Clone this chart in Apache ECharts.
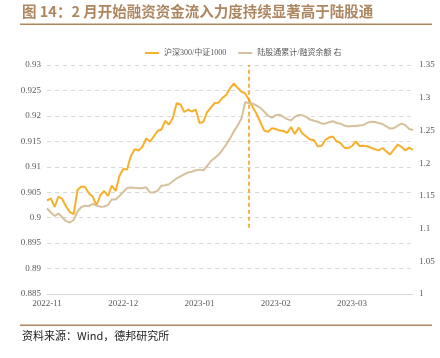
<!DOCTYPE html>
<html><head><meta charset="utf-8">
<script src="https://cdn.jsdelivr.net/npm/echarts@6/dist/echarts.min.js"></script>
<style>html,body{margin:0;padding:0;background:#fff}#c{width:440px;height:358px}</style>
</head><body><div id="c"></div>
<script>
const tickLabels = ["2022-11","2022-12","2023-01","2023-02","2023-03"];
const labelEvery = 20;
const hs300vsZz1000 = [0.90333,0.90379,0.90210,0.90416,0.90367,0.90219,0.90111,0.90072,0.90544,0.90612,
0.90603,0.90475,0.90414,0.90239,0.90445,0.90524,0.90426,0.90632,0.90524,0.90819,
0.90956,0.90946,0.91212,0.91343,0.91320,0.91389,0.91556,0.91497,0.91595,0.91703,
0.91733,0.91900,0.91831,0.91959,0.92247,0.92224,0.92076,0.92122,0.92086,0.92126,
0.91860,0.91880,0.92076,0.92165,0.92253,0.92259,0.92352,0.92410,0.92542,0.92636,
0.92552,0.92475,0.92440,0.92312,0.92165,0.92037,0.91870,0.91707,0.91689,0.91756,
0.91742,0.91711,0.91703,0.91664,0.91782,0.91644,0.91772,0.91654,0.91595,0.91536,
0.91526,0.91404,0.91408,0.91526,0.91577,0.91595,0.91497,0.91467,0.91375,0.91363,
0.91408,0.91497,0.91408,0.91414,0.91404,0.91373,0.91343,0.91322,0.91369,0.91302,
0.91241,0.91340,0.91434,0.91389,0.91322,0.91377,0.91330];
const northboundVsMargin = [1.1310,1.1246,1.1192,1.1230,1.1172,1.1113,1.1093,1.1131,1.1261,1.1330,
1.1348,1.1345,1.1376,1.1351,1.1334,1.1337,1.1360,1.1444,1.1444,1.1498,
1.1559,1.1620,1.1628,1.1622,1.1615,1.1615,1.1631,1.1554,1.1551,1.1577,
1.1655,1.1663,1.1678,1.1724,1.1768,1.1797,1.1829,1.1857,1.1869,1.1891,
1.1901,1.1892,1.1956,1.2033,1.2077,1.2128,1.2201,1.2285,1.2375,1.2485,
1.2574,1.2682,1.2934,1.2915,1.2910,1.2879,1.2843,1.2786,1.2724,1.2695,
1.2733,1.2740,1.2707,1.2673,1.2652,1.2708,1.2736,1.2731,1.2707,1.2666,
1.2647,1.2633,1.2607,1.2603,1.2626,1.2640,1.2614,1.2603,1.2574,1.2559,
1.2568,1.2568,1.2577,1.2583,1.2615,1.2633,1.2629,1.2615,1.2595,1.2562,
1.2528,1.2536,1.2574,1.2604,1.2581,1.2522,1.2507];
const markerIndex = 52.5;
const markerRange = [0.898, 0.93];
const categories = hs300vsZz1000.map((_, i) => String(i));

const ORANGE = '#F6B02C', BEIGE = '#D6C19C', BROWN = '#AD8660';
const serif = '"Liberation Serif","Noto Sans CJK SC",serif';
const chart = echarts.init(document.getElementById('c'), null, {renderer:'canvas'});
chart.setOption({
  animation:false,
  backgroundColor:'#fff',
  grid:{left:47, right:27, top:65, bottom:64},
  legend:{
    top:44, left:140, itemWidth:14, itemHeight:2, itemGap:12, icon:'rect',
    textStyle:{fontSize:8, color:'#595959', fontFamily:serif},
    data:['沪深300/中证1000','陆股通累计/融资余额 右']
  },
  xAxis:{
    type:'category', boundaryGap:false, data:categories,
    axisLine:{lineStyle:{color:'#d9d9d9'}}, axisTick:{show:false},
    axisLabel:{interval:labelEvery-1, margin:5, fontSize:9, color:'#595959', fontFamily:serif,
      formatter:(v, i) => tickLabels[Math.round(i/labelEvery)] || ''}
  },
  yAxis:[
    {type:'value', min:0.885, max:0.93, interval:0.005,
     axisLine:{show:false}, axisTick:{show:false},
     splitLine:{lineStyle:{color:'#d9d9d9', type:[4,4]}},
     axisLabel:{margin:6, fontSize:9, color:'#595959', fontFamily:serif}},
    {type:'value', min:1, max:1.35, interval:0.05,
     axisLine:{show:false}, axisTick:{show:false}, splitLine:{show:false},
     axisLabel:{margin:6, fontSize:9, color:'#595959', fontFamily:serif}}
  ],
  series:[
    {name:'沪深300/中证1000', type:'line', yAxisIndex:0, data:hs300vsZz1000,
     showSymbol:false, lineStyle:{width:2, color:ORANGE}, itemStyle:{color:ORANGE},
     markLine:{symbol:'none', silent:true, label:{show:false},
       lineStyle:{color:'#F39A10', type:[4,3], width:1.5, opacity:1},
       emphasis:{disabled:true},
       data:[[{coord:[markerIndex, markerRange[0]]},{coord:[markerIndex, markerRange[1]]}]]}},
    {name:'陆股通累计/融资余额 右', type:'line', yAxisIndex:1, data:northboundVsMargin,
     showSymbol:false, lineStyle:{width:2, color:BEIGE}, itemStyle:{color:BEIGE}}
  ],
  graphic:[
    {type:'text', left:22, top:4, style:{text:'图 14：2 月开始融资资金流入力度持续显著高于陆股通',
      fill:BROWN, font:'bold 14.5px "Noto Sans CJK SC", sans-serif'}},
    {type:'rect', shape:{x:20, y:23.5, width:412, height:1.5}, style:{fill:BROWN}},
    {type:'rect', shape:{x:20, y:324.5, width:412, height:1.5}, style:{fill:BROWN}},
    {type:'text', left:22, top:330, style:{text:'资料来源：Wind，德邦研究所',
      fill:'#222', font:'11px "Noto Sans CJK SC", sans-serif'}}
  ]
});
</script></body></html>
